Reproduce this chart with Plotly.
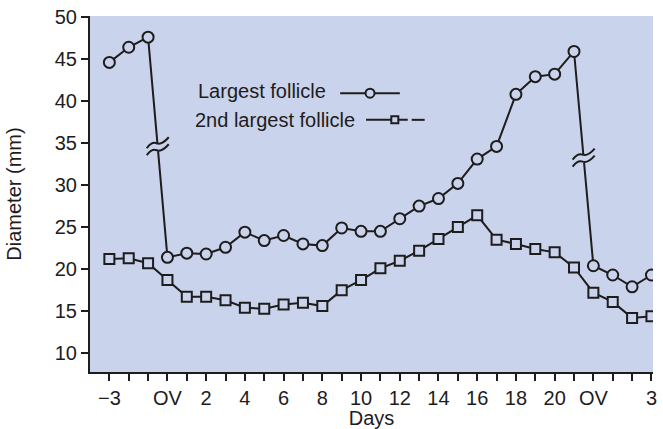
import plotly.graph_objects as go

# ---- data ----
days = list(range(-3, 26))  # -3..21 cycle days, 22 = second OV, 23..25 = days 1..3
largest = [44.6, 46.4, 47.6, 21.4, 21.9, 21.8, 22.6, 24.4, 23.4, 24.0, 23.0, 22.8,
           24.9, 24.5, 24.5, 26.0, 27.5, 28.4, 30.2, 33.1, 34.6, 40.8, 42.9, 43.2,
           45.9, 20.4, 19.3, 17.9, 19.3]
second = [21.2, 21.3, 20.7, 18.7, 16.7, 16.7, 16.3, 15.4, 15.3, 15.8, 16.0, 15.6,
          17.5, 18.7, 20.1, 21.0, 22.2, 23.6, 25.0, 26.4, 23.5, 23.0, 22.4, 22.0,
          20.2, 17.2, 16.1, 14.2, 14.4]
tick_labels = {-3: "\u22123", 0: "OV", 2: "2", 4: "4", 6: "6", 8: "8", 10: "10",
               12: "12", 14: "14", 16: "16", 18: "18", 20: "20", 22: "OV", 25: "3"}
y_ticks = [10, 15, 20, 25, 30, 35, 40, 45, 50]
break_after = [-1, 21]  # axis breaks on the drop segments after these days

BG = "#c9d3eb"
INK = "#1e1c1d"
FONT = "Liberation Sans, Arial, sans-serif"

fig = go.Figure()
fig.add_trace(go.Scatter(
    x=days, y=largest, mode="lines+markers", name="Largest follicle",
    line=dict(color=INK, width=2),
    marker=dict(symbol="circle", size=11, color=BG, line=dict(color=INK, width=2)),
    showlegend=False))
fig.add_trace(go.Scatter(
    x=days, y=second, mode="lines+markers", name="2nd largest follicle",
    line=dict(color=INK, width=2),
    marker=dict(symbol="square", size=10, color=BG, line=dict(color=INK, width=2)),
    showlegend=False))

shapes = []
# break marks at the middle of the drop segments
for d in break_after:
    i = days.index(d)
    mx = (days[i] + days[i + 1]) / 2
    my = (largest[i] + largest[i + 1]) / 2
    common = dict(xref="x", yref="y", xsizemode="pixel", ysizemode="pixel",
                  xanchor=mx, yanchor=my)
    shapes.append(dict(type="path", path="M-4,1.8 L4,5.0 L4,-2.6 L-4,-5.8 Z",
                       fillcolor=BG, line=dict(width=0), **common))
    shapes.append(dict(type="path", path="M-11,-1 Q-6,6 -1,4 T11,10",
                       line=dict(color=INK, width=2), **common))
    shapes.append(dict(type="path", path="M-11,-8 Q-6,-1 -1,-3 T11,3",
                       line=dict(color=INK, width=2), **common))

# legend samples (symbol drawn to the right of the text)
shapes += [
    dict(type="line", xref="paper", yref="paper", x0=0.4444, x1=0.5503, y0=0.7833, y1=0.7833,
         line=dict(color=INK, width=2)),
    dict(type="circle", xref="paper", yref="paper", xsizemode="pixel", ysizemode="pixel",
         xanchor=0.4974, yanchor=0.7833, x0=-4.5, x1=4.5, y0=-4.5, y1=4.5,
         fillcolor=BG, line=dict(color=INK, width=2)),
    dict(type="line", xref="paper", yref="paper", x0=0.4903, x1=0.5644, y0=0.7083, y1=0.7083,
         line=dict(color=INK, width=2)),
    dict(type="line", xref="paper", yref="paper", x0=0.5714, x1=0.5944, y0=0.7083, y1=0.7083,
         line=dict(color=INK, width=2)),
    dict(type="rect", xref="paper", yref="paper", xsizemode="pixel", ysizemode="pixel",
         xanchor=0.5414, yanchor=0.7083, x0=-3.5, x1=3.5, y0=-3.5, y1=3.5,
         fillcolor=BG, line=dict(color=INK, width=2)),
]

annotations = [
    dict(text="Largest follicle", xref="paper", yref="paper", x=0.1887, y=0.789,
         xanchor="left", yanchor="middle", showarrow=False,
         font=dict(family=FONT, size=20, color=INK)),
    dict(text="2nd largest follicle", xref="paper", yref="paper", x=0.1834, y=0.7083,
         xanchor="left", yanchor="middle", showarrow=False,
         font=dict(family=FONT, size=20, color=INK)),
]

fig.update_layout(
    width=663, height=429,
    margin=dict(l=90, r=6, t=16, b=53),
    paper_bgcolor="white", plot_bgcolor=BG,
    font=dict(family=FONT, size=20, color=INK),
    shapes=shapes, annotations=annotations,
    xaxis=dict(range=[-4.0, 25.08], tickmode="array", tickvals=days,
               ticktext=[tick_labels.get(d, "") for d in days],
               ticks="outside", ticklen=7, tickwidth=2, tickcolor=INK,
               showline=True, linecolor=INK, linewidth=2, showgrid=False, zeroline=False,
               title=dict(text="Days", standoff=0, font=dict(size=20))),
    yaxis=dict(range=[7.76, 50.12], tickmode="array", tickvals=y_ticks,
               ticks="outside", ticklen=7, tickwidth=2, tickcolor=INK,
               showline=True, linecolor=INK, linewidth=2, showgrid=False, zeroline=False,
               title=dict(text="Diameter (mm)", standoff=28, font=dict(size=20))),
)

fig.write_html("out.html")
